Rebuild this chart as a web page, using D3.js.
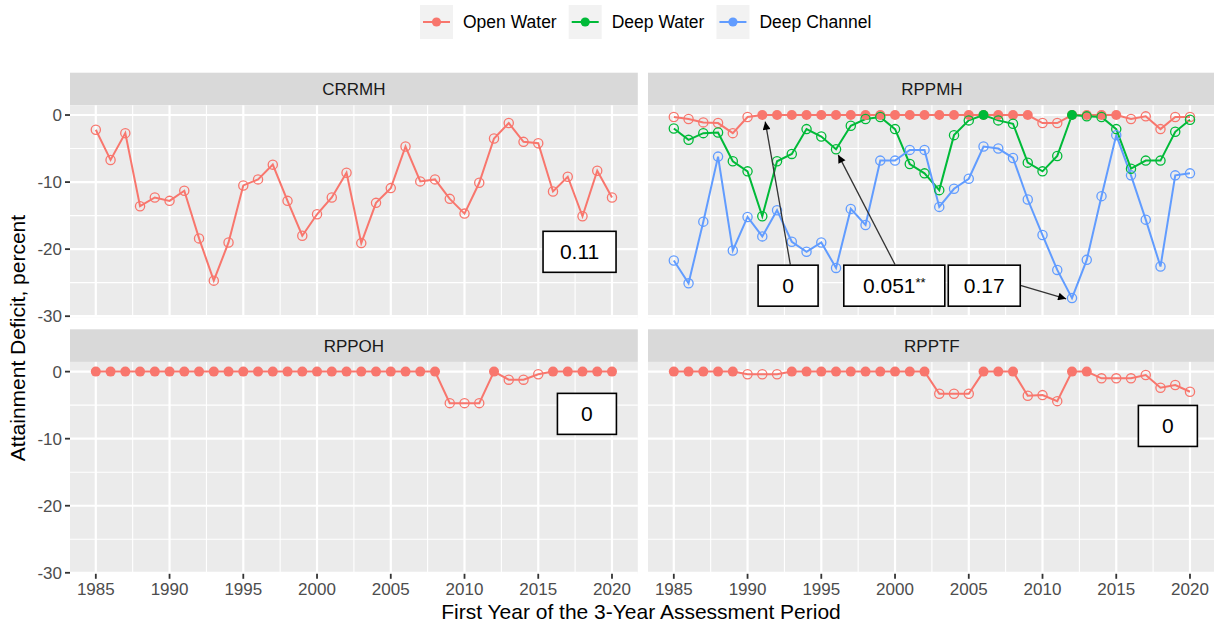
<!DOCTYPE html>
<html>
<head>
<meta charset="utf-8">
<script src="https://cdn.jsdelivr.net/npm/d3@7"></script>
<style>
  html, body { margin: 0; padding: 0; background: #fff; }
  svg { display: block; font-family: "Liberation Sans", Arial, sans-serif; }
</style>
</head>
<body>
<svg id="chart" width="1214" height="626"></svg>
<script>
// ---- data -------------------------------------------------------------
const years = [1985,1986,1987,1988,1989,1990,1991,1992,1993,1994,1995,1996,
               1997,1998,1999,2000,2001,2002,2003,2004,2005,2006,2007,2008,
               2009,2010,2011,2012,2013,2014,2015,2016,2017,2018,2019,2020];
const xTicks = [1985,1990,1995,2000,2005,2010,2015,2020];
const yTicks = [0,-10,-20,-30];
const seriesNames = ["Open Water","Deep Water","Deep Channel"];
const panelNames = ["CRRMH","RPPMH","RPPOH","RPPTF"];

const crrmhOpen = [-2.2,-6.7,-2.7,-13.6,-12.3,-12.8,-11.3,-18.4,-24.7,-19.0,-10.5,-9.6,
                   -7.4,-12.8,-18.0,-14.8,-12.3,-8.6,-19.1,-13.1,-10.9,-4.7,-9.9,-9.6,
                   -12.5,-14.7,-10.1,-3.5,-1.2,-4.0,-4.2,-11.4,-9.2,-15.1,-8.3,-12.3];

const rppmhOpen = [-0.3,-0.6,-1.1,-1.2,-2.7,-0.3,0,0,0,0,0,0,
                   0,0,0,0,0,0,0,0,0,0,0,0,
                   0,-1.2,-1.2,0,0,0,0,-0.6,-0.2,-2.1,-0.3,-0.3];
const rppmhDeep = [-2.0,-3.7,-2.7,-2.6,-6.9,-8.4,-15.1,-6.9,-5.8,-2.1,-3.2,-5.1,
                   -1.6,-0.6,-0.3,-2.1,-7.3,-8.7,-11.2,-3.0,-0.8,0,-0.8,-1.3,
                   -7.1,-8.4,-6.1,0,-0.2,-0.3,-2.1,-8.0,-6.8,-6.8,-2.5,-0.7];
const rppmhChannel = [-21.7,-25.1,-15.9,-6.2,-20.2,-15.2,-18.1,-14.2,-18.9,-20.4,-19.0,-22.8,
                      -14.0,-16.4,-6.8,-6.8,-5.2,-5.2,-13.7,-11.0,-9.5,-4.7,-5.0,-6.4,
                      -12.6,-17.9,-23.1,-27.3,-21.6,-12.1,-3.0,-9.0,-15.6,-22.6,-9.0,-8.7];

const rppohOpen = [0,0,0,0,0,0,0,0,0,0,0,0,
                   0,0,0,0,0,0,0,0,0,0,0,0,
                   -4.7,-4.7,-4.7,0,-1.2,-1.2,-0.4,0,0,0,0,0];
const rpptfOpen = [0,0,0,0,0,-0.4,-0.4,-0.4,0,0,0,0,
                   0,0,0,0,0,0,-3.3,-3.3,-3.3,0,0,0,
                   -3.6,-3.5,-4.4,0,0,-1.0,-1.0,-1.0,-0.5,-2.4,-2.0,-3.0];

// trend labels per panel
const trendLabels = ["0.11", "0", "0.051", "0.17", "0", "0"];

// ---- layout & style ---------------------------------------------------
const colors = { "Open Water": "#F8766D", "Deep Water": "#00BA38", "Deep Channel": "#619CFF" };
const svg = d3.select("#chart");

const colX = [70, 648];
const panelW = 567.8;
const rowTop = [72.7, 329.3];
const stripH = 32.6;
const panelH = 211.9;

const x = d3.scaleLinear().domain([1983.25, 2021.75]).range([0, panelW]);
const y = d3.scaleLinear().domain([-30.15, 1.45]).range([panelH, 0]);

const panels = [
  { name: "CRRMH", col: 0, row: 0, series: [["Open Water", crrmhOpen]] },
  { name: "RPPMH", col: 1, row: 0, series: [["Open Water", rppmhOpen], ["Deep Water", rppmhDeep], ["Deep Channel", rppmhChannel]] },
  { name: "RPPOH", col: 0, row: 1, series: [["Open Water", rppohOpen]] },
  { name: "RPPTF", col: 1, row: 1, series: [["Open Water", rpptfOpen]] }
];

// annotation boxes (centre in data units) and optional arrows to a target
const notes = [
  { panel: "CRRMH", text: trendLabels[0], cx: 2017.8, cy: -20.4, w: 73, h: 41 },
  { panel: "RPPMH", text: trendLabels[1], cx: 1992.75, cy: -25.45, w: 60, h: 41,
    from: [1992.9, -22.3], to: [1991.2, -1.0] },
  { panel: "RPPMH", text: trendLabels[2], stars: "**", cx: 1999.95, cy: -25.45, w: 101, h: 41,
    from: [2000.0, -22.3], to: [1996.15, -5.95] },
  { panel: "RPPMH", text: trendLabels[3], cx: 2006.05, cy: -25.45, w: 72, h: 41,
    from: [2008.5, -25.4], to: [2011.6, -27.4] },
  { panel: "RPPOH", text: trendLabels[4], cx: 2018.3, cy: -6.3, w: 59, h: 41 },
  { panel: "RPPTF", text: trendLabels[5], cx: 2018.5, cy: -8.1, w: 59, h: 41 }
];

const defs = svg.append("defs");
defs.append("marker")
  .attr("id", "arrowhead")
  .attr("viewBox", "0 0 10 10")
  .attr("refX", 10).attr("refY", 5)
  .attr("markerWidth", 11).attr("markerHeight", 8)
  .attr("markerUnits", "userSpaceOnUse")
  .attr("orient", "auto")
  .append("path").attr("d", "M0,0 L10,5 L0,10 Z").attr("fill", "#000");

const line = d3.line().x((d, i) => x(years[i])).y(d => y(d));

panels.forEach(p => {
  const px = colX[p.col];
  const top = rowTop[p.row];
  const g = svg.append("g").attr("transform", `translate(${px},${top})`);

  // strip
  g.append("rect").attr("x", 0).attr("y", 0).attr("width", panelW).attr("height", stripH)
    .attr("fill", "#D9D9D9");
  g.append("text").attr("x", panelW / 2).attr("y", stripH / 2 + 6)
    .attr("text-anchor", "middle").attr("font-size", 17).attr("fill", "#1A1A1A")
    .text(p.name);

  const pg = g.append("g").attr("transform", `translate(0,${stripH})`);
  pg.append("rect").attr("width", panelW).attr("height", panelH).attr("fill", "#EBEBEB");

  // minor grid
  const xMinor = xTicks.slice(0, -1).map(t => t + 2.5).concat([1982.5]).filter(v => x(v) >= 0);
  const yMinor = [-5, -15, -25];
  pg.selectAll(".xminor").data(xMinor).join("line")
    .attr("x1", d => x(d)).attr("x2", d => x(d)).attr("y1", 0).attr("y2", panelH)
    .attr("stroke", "#fff").attr("stroke-width", 1.1);
  pg.selectAll(".yminor").data(yMinor).join("line")
    .attr("x1", 0).attr("x2", panelW).attr("y1", d => y(d)).attr("y2", d => y(d))
    .attr("stroke", "#fff").attr("stroke-width", 1.1);
  // major grid
  pg.selectAll(".xmajor").data(xTicks).join("line")
    .attr("x1", d => x(d)).attr("x2", d => x(d)).attr("y1", 0).attr("y2", panelH)
    .attr("stroke", "#fff").attr("stroke-width", 2.2);
  pg.selectAll(".ymajor").data(yTicks).join("line")
    .attr("x1", 0).attr("x2", panelW).attr("y1", d => y(d)).attr("y2", d => y(d))
    .attr("stroke", "#fff").attr("stroke-width", 2.2);

  // lines
  p.series.forEach(([name, vals]) => {
    pg.append("path").datum(vals).attr("d", line)
      .attr("fill", "none").attr("stroke", colors[name]).attr("stroke-width", 2);
  });
  // points: filled where the target is attained (0), hollow otherwise
  p.series.forEach(([name, vals]) => {
    pg.selectAll(null).data(vals).join("circle")
      .attr("cx", (d, i) => x(years[i])).attr("cy", d => y(d))
      .attr("r", d => d === 0 ? 5 : 4.6)
      .attr("fill", d => d === 0 ? colors[name] : "none")
      .attr("stroke", colors[name]).attr("stroke-width", d => d === 0 ? 0 : 1.3);
  });

  // annotations
  notes.filter(n => n.panel === p.name).forEach(n => {
    if (n.to) {
      pg.append("line")
        .attr("x1", x(n.from[0])).attr("y1", y(n.from[1]))
        .attr("x2", x(n.to[0])).attr("y2", y(n.to[1]))
        .attr("stroke", "#333").attr("stroke-width", 1.3)
        .attr("marker-end", "url(#arrowhead)");
    }
    const bx = x(n.cx) - n.w / 2, by = y(n.cy) - n.h / 2;
    pg.append("rect").attr("x", bx).attr("y", by).attr("width", n.w).attr("height", n.h)
      .attr("fill", "#fff").attr("stroke", "#000").attr("stroke-width", 1.6);
    const t = pg.append("text").attr("x", x(n.cx)).attr("y", y(n.cy) + 7.5)
      .attr("text-anchor", "middle").attr("font-size", 21).attr("fill", "#000")
      .text(n.text);
    if (n.stars) {
      t.append("tspan").attr("font-size", 13).attr("dy", -6).text(n.stars);
    }
  });

  // y axis on left column
  if (p.col === 0) {
    const ya = pg.append("g");
    yTicks.forEach(v => {
      ya.append("line").attr("x1", -5).attr("x2", 0).attr("y1", y(v)).attr("y2", y(v))
        .attr("stroke", "#333").attr("stroke-width", 1.8);
      ya.append("text").attr("x", -8).attr("y", y(v) + 6)
        .attr("text-anchor", "end").attr("font-size", 17).attr("fill", "#4D4D4D")
        .text(v);
    });
  }
  // x axis on bottom row
  if (p.row === 1) {
    const xa = pg.append("g").attr("transform", `translate(0,${panelH})`);
    xTicks.forEach(v => {
      xa.append("line").attr("x1", x(v)).attr("x2", x(v)).attr("y1", 0).attr("y2", 5)
        .attr("stroke", "#333").attr("stroke-width", 1.8);
      xa.append("text").attr("x", x(v)).attr("y", 21)
        .attr("text-anchor", "middle").attr("font-size", 17).attr("fill", "#4D4D4D")
        .text(v);
    });
  }
});

// axis titles
svg.append("text").attr("x", 641).attr("y", 619)
  .attr("text-anchor", "middle").attr("font-size", 21).attr("fill", "#000")
  .text("First Year of the 3-Year Assessment Period");
svg.append("text")
  .attr("transform", "translate(25,338) rotate(-90)")
  .attr("text-anchor", "middle").attr("font-size", 21).attr("fill", "#000")
  .text("Attainment Deficit, percent");

// legend
const lg = svg.append("g");
const keyW = 33, keyH = 34, keyY = 5;
let cursor = 420;
seriesNames.forEach(name => {
  const it = lg.append("g").attr("transform", `translate(${cursor},0)`);
  it.append("rect").attr("x", 0).attr("y", keyY).attr("width", keyW).attr("height", keyH)
    .attr("fill", "#F2F2F2");
  it.append("line").attr("x1", 3).attr("x2", keyW - 3).attr("y1", keyY + keyH / 2).attr("y2", keyY + keyH / 2)
    .attr("stroke", colors[name]).attr("stroke-width", 2);
  it.append("circle").attr("cx", keyW / 2).attr("cy", keyY + keyH / 2).attr("r", 4.6)
    .attr("fill", colors[name]);
  const tx = it.append("text").attr("x", keyW + 10).attr("y", keyY + keyH / 2 + 6)
    .attr("font-size", 17.5).attr("fill", "#000").text(name);
  cursor += keyW + 10 + tx.node().getComputedTextLength() + 12;
});
</script>
</body>
</html>
